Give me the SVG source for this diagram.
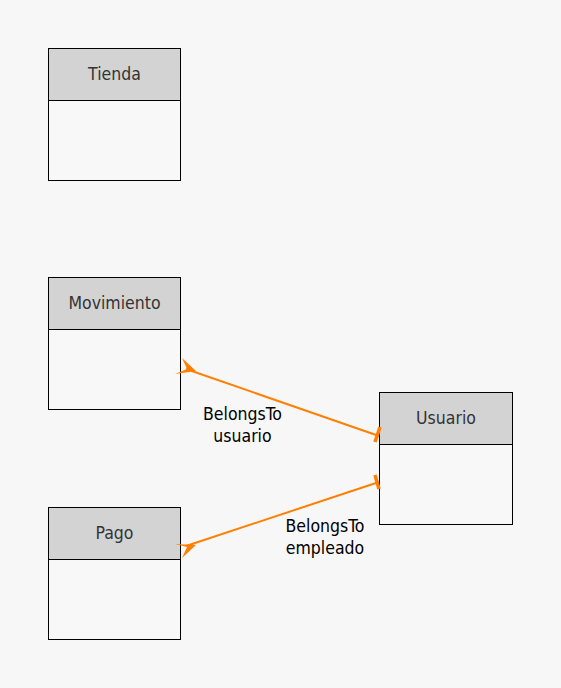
<svg xmlns="http://www.w3.org/2000/svg" width="561" height="688" viewBox="0 0 561 688">
<style>
.hdr{fill:#d3d3d3;stroke:#000;stroke-width:1}
.body{fill:#f8f8f8;stroke:#000;stroke-width:1}
.name{font-family:"DejaVu Sans Condensed","DejaVu Sans",sans-serif;font-size:17.5px;fill:#333;text-anchor:middle}
.lbl{font-family:"DejaVu Sans Condensed","DejaVu Sans",sans-serif;font-size:17.5px;fill:#000;text-anchor:middle}
.edge{stroke:#ff8000;stroke-width:2;fill:none}
.foot{fill:#ff8000;stroke:none}
.tick{stroke:#ff8000;stroke-width:3.5;fill:none}
</style>
<rect width="561" height="688" fill="#f7f7f7"/>
<g id="Tienda">
<rect class="body" x="48.5" y="100.5" width="132" height="80"/>
<rect class="hdr" x="48.5" y="48.5" width="132" height="52"/>
<text class="name" x="114.5" y="80">Tienda</text>
</g>
<g id="Movimiento">
<rect class="body" x="48.5" y="329.5" width="132" height="80"/>
<rect class="hdr" x="48.5" y="277.5" width="132" height="52"/>
<text class="name" x="114.5" y="309">Movimiento</text>
</g>
<g id="Pago">
<rect class="body" x="48.5" y="559.5" width="132" height="80"/>
<rect class="hdr" x="48.5" y="507.5" width="132" height="52"/>
<text class="name" x="114.5" y="539">Pago</text>
</g>
<g id="Usuario">
<rect class="body" x="379.5" y="444.5" width="133" height="80"/>
<rect class="hdr" x="379.5" y="392.5" width="133" height="52"/>
<text class="name" x="446" y="424">Usuario</text>
</g>
<g id="connectors">
<g id="e1">
<path class="edge" d="M186,369 L379,436"/>
<polygon class="foot" points="182,358 196,371 175,374 187,369"/>
<path class="tick" d="M380,427 L375,442"/>
<text class="lbl" x="242.5" y="420">BelongsTo</text>
<text class="lbl" x="242.5" y="442">usuario</text>
</g>
<g id="e2">
<path class="edge" d="M186,546 L379,482"/>
<polygon class="foot" points="175,544 196,545 182,558 187,547"/>
<path class="tick" d="M375,475 L379,489"/>
<text class="lbl" x="325" y="532">BelongsTo</text>
<text class="lbl" x="325" y="554">empleado</text>
</g>
</g>
</svg>
